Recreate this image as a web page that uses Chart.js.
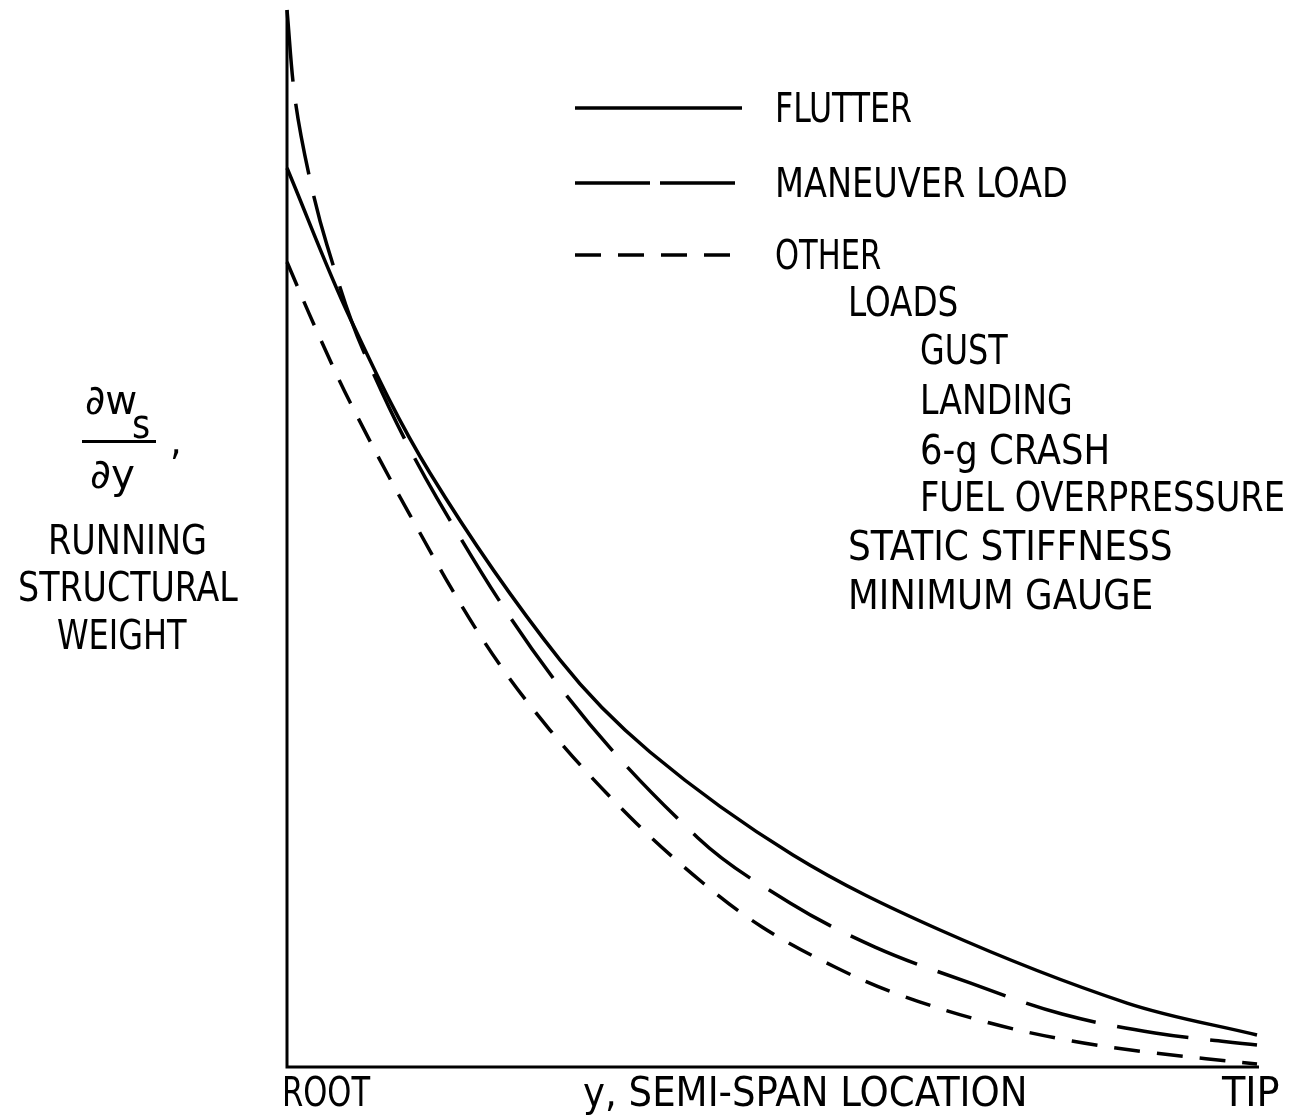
<!DOCTYPE html>
<html>
<head>
<meta charset="utf-8">
<title>Running structural weight</title>
<script src="https://cdn.jsdelivr.net/npm/chart.js@4.4.1/dist/chart.umd.min.js"></script>
<style>
    body { margin: 0; background: #fff; }
    #wrap { position: relative; width: 1296px; height: 1118px; }
    #chart { position: absolute; left: 0; top: 0; }
    .lbl {
        position: absolute;
        font-family: 'DejaVu Sans Condensed', 'DejaVu Sans', sans-serif;
        font-size: 41px;
        line-height: 1;
        color: #000;
        white-space: nowrap;
        transform-origin: left center;
        transform: translateY(-50%);
    }
</style>
</head>
<body>
<div id="wrap">
    <canvas id="chart" width="1296" height="1118"></canvas>

    <!-- y axis title -->
    <div class="lbl" data-w="52" style="left:85px; top:400px;">&part;w</div>
    <div class="lbl" data-w="18" style="left:132px; top:424px;">s</div>
    <div style="position:absolute; left:82px; top:440px; width:74px; height:3px; background:#000;"></div>
    <div class="lbl" style="left:170px; top:440px;">,</div>
    <div class="lbl" data-w="45" style="left:90px; top:474px;">&part;y</div>
    <div class="lbl" data-w="159" style="left:48px; top:540px;">RUNNING</div>
    <div class="lbl" data-w="220" style="left:18px; top:587px;">STRUCTURAL</div>
    <div class="lbl" data-w="130" style="left:57px; top:635px;">WEIGHT</div>

    <!-- x axis labels -->
    <div class="lbl" data-w="88" style="left:282px; top:1092px;">ROOT</div>
    <div class="lbl" data-w="444" style="left:583px; top:1092px;">y, SEMI-SPAN LOCATION</div>
    <div class="lbl" data-w="58" style="left:1222px; top:1092px;">TIP</div>

    <!-- legend text -->
    <div class="lbl" data-w="137" style="left:775px; top:108px;">FLUTTER</div>
    <div class="lbl" data-w="293" style="left:775px; top:183px;">MANEUVER LOAD</div>
    <div class="lbl" data-w="106" style="left:775px; top:255px;">OTHER</div>
    <div class="lbl" data-w="110" style="left:848px; top:302px;">LOADS</div>
    <div class="lbl" data-w="88" style="left:920px; top:350px;">GUST</div>
    <div class="lbl" data-w="153" style="left:920px; top:400px;">LANDING</div>
    <div class="lbl" data-w="190" style="left:920px; top:450px;">6-g CRASH</div>
    <div class="lbl" data-w="365" style="left:920px; top:497px;">FUEL OVERPRESSURE</div>
    <div class="lbl" data-w="325" style="left:848px; top:546px;">STATIC STIFFNESS</div>
    <div class="lbl" data-w="305" style="left:848px; top:595px;">MINIMUM GAUGE</div>
</div>

<script>
// semi-span position (% of root-to-tip) and running weight (% of axis height)
const flutterX = [0, 6.49, 14.74, 28.14, 37.42, 52.16, 67.32, 86.60, 100];
const flutterY = [85.05, 70.86, 56.20, 38.51, 29.80, 20.06, 12.96, 6.05, 3.03];

const maneuverX = [0, 0.82, 2.27, 4.12, 7.84, 15.46, 28.14, 42.37, 51.86, 60.62, 70.41, 79.90, 89.48, 100];
const maneuverY = [100, 91.67, 84.39, 77.77, 67.83, 53.83, 35.95, 21.67, 15.52, 11.35, 7.95, 5.01, 3.22, 2.08];

const otherX = [0, 2.89, 6.49, 12.68, 20.21, 27.11, 35.36, 42.89, 48.97, 56.49, 63.20, 72.47, 80.93, 89.48, 100];
const otherY = [76.16, 70.01, 62.91, 52.22, 40.40, 31.88, 23.65, 17.41, 13.25, 9.46, 6.81, 4.16, 2.46, 1.32, 0.28];

const seriesNames = ['FLUTTER', 'MANEUVER LOAD', 'OTHER'];

function toPoints(xs, ys) {
    return xs.map((x, i) => ({ x: x, y: ys[i] }));
}

// squeeze each label to the width it has in the original lettering
document.querySelectorAll('.lbl[data-w]').forEach(el => {
    const s = Number(el.dataset.w) / el.offsetWidth;
    el.style.transform = 'translateY(-50%) scaleX(' + s.toFixed(3) + ')';
});

// axes and legend line samples
const framePlugin = {
    id: 'frame',
    afterDraw(chart) {
        const ctx = chart.ctx;
        const a = chart.chartArea;
        ctx.save();
        ctx.strokeStyle = '#000';
        ctx.lineWidth = 3;
        ctx.beginPath();
        ctx.moveTo(a.left, a.top);
        ctx.lineTo(a.left, a.bottom);
        ctx.lineTo(a.right + 2, a.bottom);
        ctx.stroke();

        const legendY = [108, 183, 255];
        chart.data.datasets.forEach((ds, i) => {
            ctx.setLineDash(i === 1 ? [75, 10] : (ds.borderDash || []));
            ctx.lineWidth = 3.5;
            ctx.beginPath();
            ctx.moveTo(575, legendY[i]);
            ctx.lineTo(742, legendY[i]);
            ctx.stroke();
        });
        ctx.restore();
    }
};

new Chart(document.getElementById('chart'), {
    type: 'line',
    data: {
        datasets: [
            { label: seriesNames[0], data: toPoints(flutterX, flutterY), borderDash: [] },
            { label: seriesNames[1], data: toPoints(maneuverX, maneuverY), borderDash: [72, 22] },
            { label: seriesNames[2], data: toPoints(otherX, otherY), borderDash: [26, 17] }
        ].map(ds => Object.assign(ds, {
            borderColor: '#000',
            borderWidth: 3.5,
            pointRadius: 0,
            fill: false,
            tension: 0.35,
            clip: false
        }))
    },
    options: {
        responsive: false,
        animation: false,
        devicePixelRatio: 1,
        layout: { padding: { left: 287, top: 10, right: 39, bottom: 51 } },
        scales: {
            x: { type: 'linear', min: 0, max: 100, display: false },
            y: { type: 'linear', min: 0, max: 100, display: false }
        },
        plugins: {
            legend: { display: false },
            tooltip: { enabled: false }
        }
    },
    plugins: [framePlugin]
});
</script>
</body>
</html>
